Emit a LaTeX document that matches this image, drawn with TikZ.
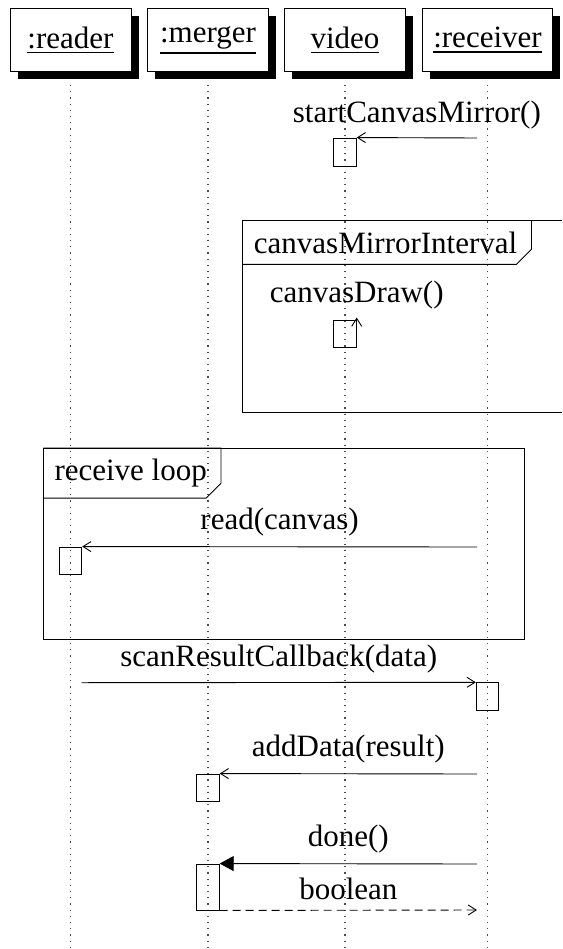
\documentclass[tikz,border=0pt]{standalone}
\usepackage{fontspec}
\setmainfont{Liberation Serif}
\usetikzlibrary{arrows.meta,shadows}
\newcommand{\ulx}[1]{\setbox0\hbox{#1}\vtop{\copy0\kern3.2pt\hrule height 1.3pt width \wd0}}
\begin{document}
\begin{tikzpicture}[x=1pt,y=-1pt,
  font=\fontsize{31}{36}\selectfont,
  obj/.style={draw, fill=white, line width=0.9pt, minimum width=121pt, minimum height=63pt, inner xsep=10.5pt,
    drop shadow={shadow xshift=7.5pt, shadow yshift=-7.5pt, opacity=1, fill=black}},
  act/.style={draw, line width=0.9pt, minimum width=22.5pt, inner sep=0pt},
  lifeline/.style={line width=1.2pt, black!70, dash pattern=on 1.2pt off 5pt},
  msg/.style={line width=0.9pt, -{Straight Barb[length=8pt,width=10pt,line width=0.9pt]}},
  syncmsg/.style={line width=0.9pt, -{Triangle[length=14pt,width=15pt]}},
  retmsg/.style={line width=0.9pt, dash pattern=on 8pt off 5pt, -{Straight Barb[length=8pt,width=10pt,line width=0.9pt]}},
  frameline/.style={line width=0.9pt},
  lbl/.style={anchor=base, inner sep=0pt},
  tab/.style={anchor=north west, inner xsep=11pt, inner ysep=10.8pt}
]
\useasboundingbox (0,0) rectangle (562,949);

% objects
\node[obj] (reader) at (70.5,40) {\ulx{:reader}};
\node[obj] (merger) at (208,40) {\ulx{:merger}};
\node[obj] (video) at (345,40) {\ulx{video}};
\node[obj] (receiver) at (487.5,40) {\ulx{:receiver}};

% lifelines
\coordinate (readerEnd) at (70.5,949);
\coordinate (mergerEnd) at (208,949);
\coordinate (videoEnd) at (345,949);
\coordinate (receiverEnd) at (487.5,949);
\draw[lifeline] ([yshift=-13pt]reader.south) -- (readerEnd);
\draw[lifeline] ([yshift=-13pt]merger.south) -- (mergerEnd);
\draw[lifeline] ([yshift=-13pt]video.south) -- (videoEnd);
\draw[lifeline] ([yshift=-13pt]receiver.south) -- (receiverEnd);

% frame: canvasMirrorInterval
\coordinate (f1a) at (562,220.5);
\coordinate (f1b) at (242.7,220.5);
\coordinate (f1c) at (242.7,412.7);
\coordinate (f1d) at (562,412.7);
\draw[frameline] (f1a) -- (f1b) -- (f1c) -- (f1d);
\node[tab] (tab1) at (f1b) {canvasMirrorInterval};
\draw[frameline] (tab1.north west) -- ([xshift=3pt]tab1.north east) -- ([xshift=3pt,yshift=15pt]tab1.south east) -- ([xshift=-12pt]tab1.south east) -- (tab1.south west);

% frame: receive loop
\coordinate (f2a) at (43.3,448);
\coordinate (f2b) at (524,639);
\draw[frameline] (f2a) rectangle (f2b);
\node[tab] (tab2) at (f2a) {receive loop};
\draw[frameline] (tab2.north west) -- ([xshift=3pt]tab2.north east) -- ([xshift=3pt,yshift=15pt]tab2.south east) -- ([xshift=-12pt]tab2.south east) -- (tab2.south west);

% activations
\node[act, minimum height=28pt] (a1) at (345,152) {};
\node[act, minimum height=27.7pt] (a2) at (345,333.8) {};
\node[act, minimum height=27pt] (a3) at (70.5,560.5) {};
\node[act, minimum height=27.3pt] (a4) at (487.5,696.4) {};
\node[act, minimum height=27pt] (a5) at (208,787.5) {};
\node[act, minimum height=46pt] (a6) at (208,887) {};

% messages
\coordinate (s1) at (477,138);
\draw[msg] (s1) -- node[lbl, midway, yshift=15pt] (l1) {startCanvasMirror()} (a1.north east);

\draw[msg] (a2.south east) -- ([yshift=2pt]a2.north east);
\node[lbl] (l2) at ([yshift=17pt]a2.north east) {canvasDraw()};

\coordinate (s3) at (477,547);
\draw[msg] (s3) -- node[lbl, midway, yshift=17pt] (l3) {read(canvas)} (a3.north east);

\coordinate (s4) at (81.5,682.7);
\draw[msg] (s4) -- node[lbl, midway, yshift=16.5pt] (l4) {scanResultCallback(data)} (a4.north west);

\coordinate (s5) at (477,774);
\draw[msg] (s5) -- node[lbl, midway, yshift=17pt] (l5) {addData(result)} (a5.north east);

\coordinate (s6) at (477,864);
\draw[syncmsg] (s6) -- node[lbl, midway, yshift=17pt] (l6) {done()} (a6.north east);

\coordinate (s7) at (477,910);
\draw[retmsg] (a6.south east) -- node[lbl, midway, yshift=11pt] (l7) {boolean} (s7);
\end{tikzpicture}
\end{document}
